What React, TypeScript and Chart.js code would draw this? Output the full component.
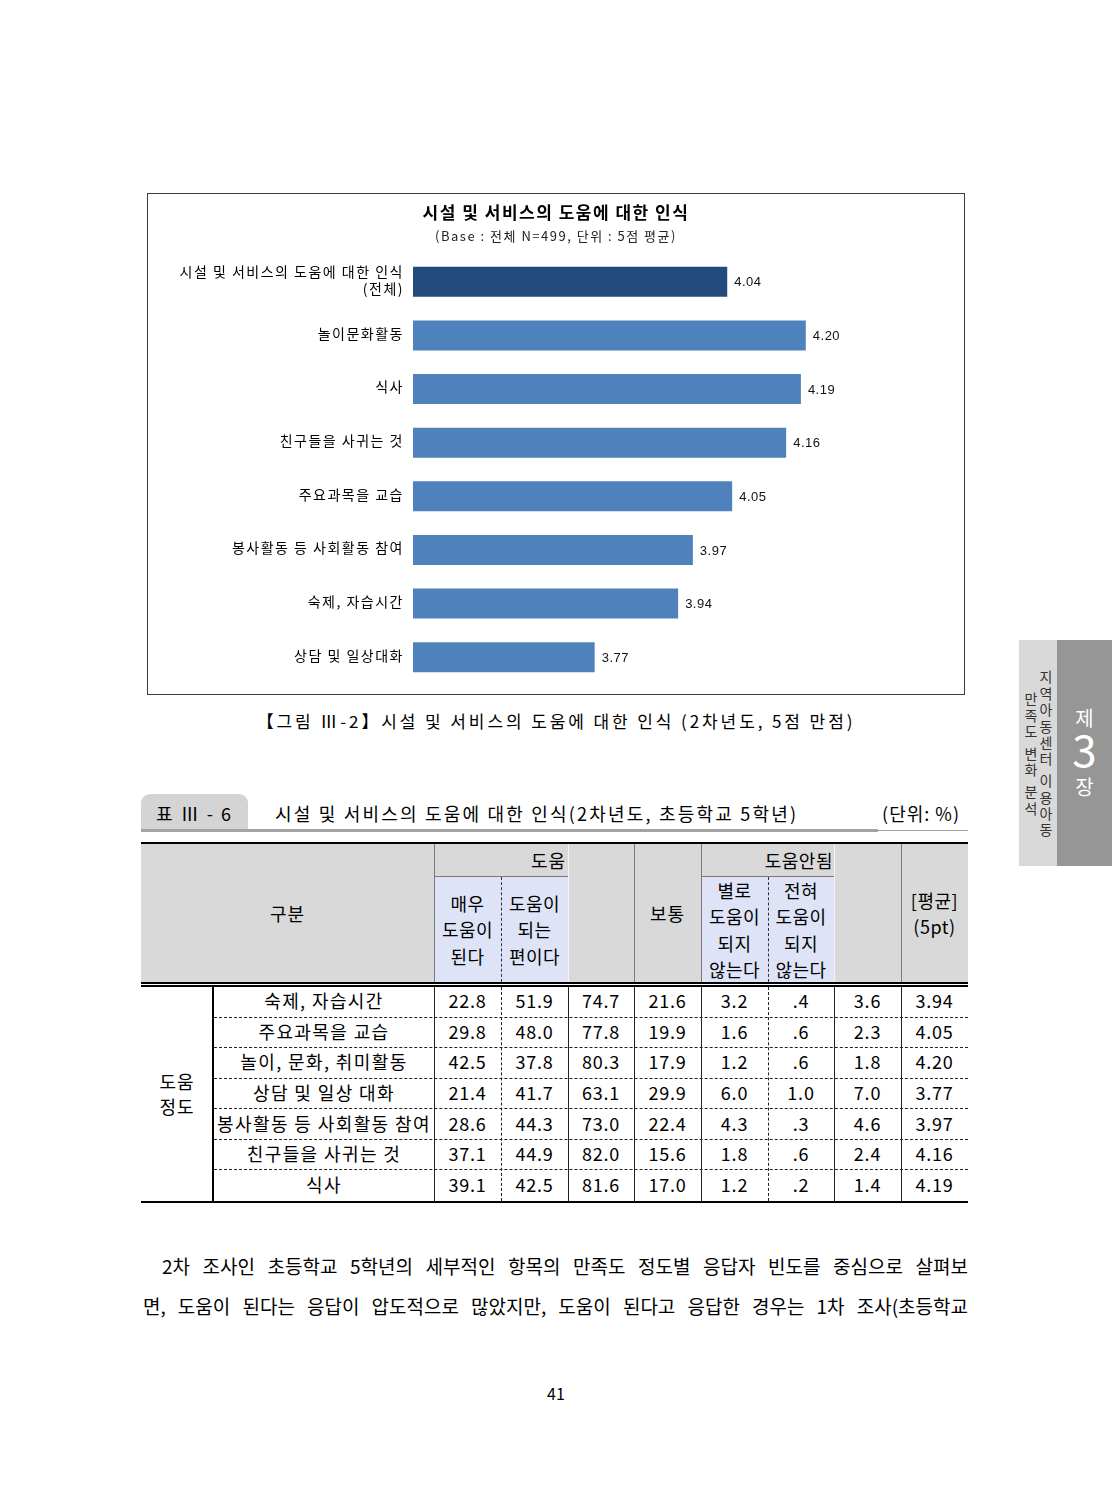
import React, { useEffect, useRef } from "react";
import { Chart, registerables } from "chart.js";

Chart.register(...registerables);

// ---------------- chart data ----------------
const chartTitle = "시설 및 서비스의 도움에 대한 인식";
const chartSubtitle = "(Base : 전체 N=499, 단위 : 5점 평균)";
const chartCategories: (string | string[])[] = [
  ["시설 및 서비스의 도움에 대한 인식", "(전체)"],
  "놀이문화활동",
  "식사",
  "친구들을 사귀는 것",
  "주요과목을 교습",
  "봉사활동 등 사회활동 참여",
  "숙제, 자습시간",
  "상담 및 일상대화",
];
const chartScores = [4.04, 4.2, 4.19, 4.16, 4.05, 3.97, 3.94, 3.77];
const axisMin = 3.4;
const axisMax = 4.4;

// ---------------- table data ----------------
const tableRows = [
  "숙제, 자습시간",
  "주요과목을 교습",
  "놀이, 문화, 취미활동",
  "상담 및 일상 대화",
  "봉사활동 등 사회활동 참여",
  "친구들을 사귀는 것",
  "식사",
];
const veryHelpful = [22.8, 29.8, 42.5, 21.4, 28.6, 37.1, 39.1];
const somewhatHelpful = [51.9, 48.0, 37.8, 41.7, 44.3, 44.9, 42.5];
const helpfulSum = [74.7, 77.8, 80.3, 63.1, 73.0, 82.0, 81.6];
const neutral = [21.6, 19.9, 17.9, 29.9, 22.4, 15.6, 17.0];
const notMuchHelpful = [3.2, 1.6, 1.2, 6.0, 4.3, 1.8, 1.2];
const notAtAllHelpful = [0.4, 0.6, 0.6, 1.0, 0.3, 0.6, 0.2];
const notHelpfulSum = [3.6, 2.3, 1.8, 7.0, 4.6, 2.4, 1.4];
const meanScore = [3.94, 4.05, 4.2, 3.77, 3.97, 4.16, 4.19];

// ---------------- text ----------------
const figureCaption = "【그림 Ⅲ-2】시설 및 서비스의 도움에 대한 인식 (2차년도, 5점 만점)";
const tableLabel = "표 Ⅲ - 6";
const tableTitle = "시설 및 서비스의 도움에 대한 인식(2차년도, 초등학교 5학년)";
const tableUnit = "(단위: %)";
const paragraphLines = [
  "2차 조사인 초등학교 5학년의 세부적인 항목의 만족도 정도별 응답자 빈도를 중심으로 살펴보",
  "면, 도움이 된다는 응답이 압도적으로 많았지만, 도움이 된다고 응답한 경우는 1차 조사(초등학교",
];
const pageNumber = "41";

const FONT = '"Noto Sans CJK KR", "Noto Sans", sans-serif';

function BarChart() {
  const ref = useRef<HTMLCanvasElement>(null);
  useEffect(() => {
    const canvas = ref.current!;
    const spacingPlugin = {
      id: "spacing",
      beforeDraw(chart: any) {
        chart.ctx.letterSpacing = "1.5px";
      },
    };
    const valueLabels = {
      id: "valueLabels",
      afterDatasetsDraw(chart: any) {
        const ctx = chart.ctx;
        const meta = chart.getDatasetMeta(0);
        ctx.save();
        ctx.letterSpacing = "0.5px";
        ctx.font = '13px "Liberation Sans", Arial, sans-serif';
        ctx.fillStyle = "#111";
        ctx.textAlign = "left";
        ctx.textBaseline = "middle";
        meta.data.forEach((el: any, i: number) => {
          const v = chart.data.datasets[0].data[i] as number;
          ctx.fillText(v.toFixed(2), el.x + 7, el.y + 1);
        });
        ctx.restore();
      },
    };
    const chart = new Chart(canvas, {
      type: "bar",
      data: {
        labels: chartCategories,
        datasets: [
          {
            data: chartScores,
            yAxisID: "y",
            backgroundColor: (c: any) => (c.dataIndex === 0 ? "#234a7c" : "#4f81bd"),
            barPercentage: 0.56,
            categoryPercentage: 1,
          },
        ],
      },
      options: {
        indexAxis: "y",
        responsive: false,
        animation: false,
        layout: { padding: { left: 0, right: 0, top: 0, bottom: 10 } },
        plugins: {
          legend: { display: false },
          tooltip: { enabled: false },
          title: {
            display: true,
            text: chartTitle,
            color: "#000",
            font: { family: FONT, size: 17, weight: "bold" },
            padding: { top: 8, bottom: 4 },
          },
          subtitle: {
            display: true,
            text: chartSubtitle,
            color: "#222",
            font: { family: FONT, size: 13 },
            padding: { top: 2, bottom: 11 },
          },
        },
        scales: {
          x: { display: false, min: axisMin, max: axisMax },
          y: {
            grid: { display: false, drawTicks: false },
            border: { display: false },
            ticks: {
              color: "#000",
              font: { family: FONT, size: 14 },
              padding: 9,
              labelOffset: -2,
            },
            afterFit: (s: any) => {
              s.width = 265;
              s.paddingTop = 0;
              s.paddingBottom = 0;
            },
          },
          yRight: {
            type: "category",
            axis: "y",
            position: "right",
            grid: { display: false, drawTicks: false },
            border: { display: false },
            ticks: { display: false },
            afterFit: (s: any) => {
              s.width = 60;
              s.paddingTop = 0;
              s.paddingBottom = 0;
            },
          },
        },
      } as any,
      plugins: [spacingPlugin, valueLabels],
    });
    return () => chart.destroy();
  }, []);
  return (
    <canvas
      ref={ref}
      width={816}
      height={500}
      style={{ display: "block", width: 816, height: 500 }}
    />
  );
}

type BoxProps = {
  l: number;
  t: number;
  w: number;
  h: number;
  align?: "center" | "flex-start" | "flex-end";
  size?: number;
  lh?: number;
  ls?: number;
  style?: React.CSSProperties;
  children?: React.ReactNode;
};

function Box({ l, t, w, h, align = "center", size = 18, lh = 26, ls = 0, style, children }: BoxProps) {
  return (
    <div
      style={{
        position: "absolute",
        left: l,
        top: t,
        width: w,
        height: h,
        display: "flex",
        alignItems: "center",
        justifyContent: align,
        textAlign: align === "center" ? "center" : align === "flex-end" ? "right" : "left",
        fontFamily: FONT,
        fontSize: size,
        lineHeight: `${lh}px`,
        letterSpacing: ls,
        whiteSpace: "pre",
        color: "#000",
        ...style,
      }}
    >
      {children}
    </div>
  );
}

function Rect({ l, t, w, h, bg, style }: { l: number; t: number; w: number; h: number; bg?: string; style?: React.CSSProperties }) {
  return <div style={{ position: "absolute", left: l, top: t, width: w, height: h, background: bg, ...style }} />;
}

const fmt1 = (v: number) => v.toFixed(1).replace(/^0\./, ".");

function DataTable() {
  const edges = [141, 213, 434, 501, 568, 634, 701, 768, 834, 901, 968];
  const headTop = 844;
  const headMid = 876;
  const headBot = 982;
  const bodyTop = 987;
  const bodyBot = 1201;
  const rowH = (bodyBot - bodyTop) / tableRows.length;
  const series = [
    veryHelpful,
    somewhatHelpful,
    helpfulSum,
    neutral,
    notMuchHelpful,
    notAtAllHelpful,
    notHelpfulSum,
    meanScore,
  ];
  const els: React.ReactNode[] = [];
  els.push(<Rect key="top" l={141} t={842} w={827} h={2} bg="#000" />);
  els.push(<Rect key="hbg" l={141} t={headTop} w={827} h={headBot - headTop} bg="#d9d9d9" />);
  els.push(<Rect key="lav1" l={434} t={headMid + 1} w={134} h={headBot - headMid - 1} bg="#dfe3f7" />);
  els.push(<Rect key="lav2" l={701} t={headMid + 1} w={133} h={headBot - headMid - 1} bg="#dfe3f7" />);
  els.push(<Rect key="hm1" l={434} t={headMid} w={134} h={1} bg="#7a7a7a" />);
  els.push(<Rect key="hm2" l={701} t={headMid} w={133} h={1} bg="#7a7a7a" />);
  [434, 634, 701, 901].forEach((x) =>
    els.push(<Rect key={"hv" + x} l={x} t={headTop} w={1} h={headBot - headTop} bg="#7a7a7a" />)
  );
  [568, 834].forEach((x) =>
    els.push(<Rect key={"hvw" + x} l={x} t={headTop} w={1} h={headBot - headTop} bg="#f4f4f4" />)
  );
  [501, 768].forEach((x) =>
    els.push(
      <Rect
        key={"hd" + x}
        l={x}
        t={headMid + 1}
        w={0}
        h={headBot - headMid - 1}
        style={{ borderLeft: "1px dashed #333" }}
      />
    )
  );
  els.push(<Rect key="dbl1" l={141} t={982} w={827} h={2} bg="#000" />);
  els.push(<Rect key="dbl2" l={141} t={985} w={827} h={2} bg="#000" />);
  els.push(<Box key="gubun" l={141} t={headTop} w={293} h={headBot - headTop} ls={1}>구분</Box>);
  els.push(
    <Box key="help" l={434} t={headTop} w={132} h={headMid - headTop} align="flex-end" ls={1}>
      도움
    </Box>
  );
  els.push(
    <Box key="nohelp" l={701} t={headTop} w={132} h={headMid - headTop} align="flex-end" ls={0.5}>
      도움안됨
    </Box>
  );
  const subHeads: [number, string][] = [
    [2, "매우\n도움이\n된다"],
    [3, "도움이\n되는\n편이다"],
    [6, "별로\n도움이\n되지\n않는다"],
    [7, "전혀\n도움이\n되지\n않는다"],
  ];
  subHeads.forEach(([ci, txt]) =>
    els.push(
      <Box key={"sh" + ci} l={edges[ci]} t={headMid + 1} w={edges[ci + 1] - edges[ci]} h={headBot - headMid - 1} lh={26.3} ls={0.5}>
        {txt}
      </Box>
    )
  );
  els.push(<Box key="normal" l={634} t={headTop} w={67} h={headBot - headTop} ls={1}>보통</Box>);
  els.push(
    <Box key="avg" l={901} t={headTop} w={67} h={headBot - headTop} ls={0.5}>
      {"[평균]\n(5pt)"}
    </Box>
  );
  els.push(<Rect key="lv" l={212} t={bodyTop} w={2} h={bodyBot - bodyTop} bg="#000" />);
  [434, 568, 634, 701, 834, 901].forEach((x) =>
    els.push(<Rect key={"bv" + x} l={x} t={bodyTop} w={1} h={bodyBot - bodyTop} bg="#222" />)
  );
  [501, 768].forEach((x) =>
    els.push(
      <Rect key={"bd" + x} l={x} t={bodyTop} w={0} h={bodyBot - bodyTop} style={{ borderLeft: "1px dashed #222" }} />
    )
  );
  for (let i = 1; i < tableRows.length; i++) {
    els.push(
      <Rect
        key={"bh" + i}
        l={214}
        t={Math.round(bodyTop + i * rowH) - 1}
        w={754}
        h={0}
        style={{ borderTop: "1px dashed #222" }}
      />
    );
  }
  els.push(<Rect key="bot" l={141} t={bodyBot} w={827} h={2} bg="#000" />);
  els.push(
    <Box key="grp" l={141} t={bodyTop} w={72} h={bodyBot - bodyTop} lh={25} ls={1}>
      {"도움\n정도"}
    </Box>
  );
  tableRows.forEach((name, i) => {
    const top = bodyTop + i * rowH - 2;
    els.push(
      <Box key={"rn" + i} l={214} t={top} w={220} h={rowH} ls={1.4}>
        {name}
      </Box>
    );
    series.forEach((s, j) => {
      const txt = j === series.length - 1 ? s[i].toFixed(2) : fmt1(s[i]);
      els.push(
        <Box key={"c" + i + "-" + j} l={edges[j + 2]} t={top} w={edges[j + 3] - edges[j + 2]} h={rowH} ls={0.8}>
          {txt}
        </Box>
      );
    });
  });
  return <>{els}</>;
}

export default function App() {
  return (
    <div
      style={{
        position: "absolute",
        left: 0,
        top: 0,
        width: 1112,
        height: 1508,
        background: "#fff",
        overflow: "hidden",
        fontFamily: FONT,
      }}
    >
      {/* chart frame */}
      <div
        style={{
          position: "absolute",
          left: 147,
          top: 193,
          width: 818,
          height: 502,
          border: "1px solid #3a3a3a",
          boxSizing: "border-box",
          background: "#fff",
        }}
      >
        <BarChart />
      </div>

      {/* figure caption */}
      <Box l={156} t={707} w={800} h={28} size={17} ls={2.9}>
        {figureCaption}
      </Box>

      {/* table title */}
      <Rect l={141} t={794} w={107} h={36} bg="#d4d4d4" style={{ borderRadius: "9px 9px 0 0" }} />
      <Box l={141} t={799} w={107} h={28} size={18} ls={2}>
        {tableLabel}
      </Box>
      <Box l={275} t={799} w={560} h={28} size={18} align="flex-start" ls={2.2}>
        {tableTitle}
      </Box>
      <Box l={760} t={799} w={200} h={28} size={18} align="flex-end" ls={1}>
        {tableUnit}
      </Box>
      <Rect l={141} t={829} w={737} h={3} bg="#a3a3a3" />
      <Rect l={878} t={830} w={90} h={1} bg="#a3a3a3" />

      <DataTable />

      {/* paragraph */}
      {paragraphLines.map((line, i) => (
        <div
          key={i}
          style={{
            position: "absolute",
            left: i === 0 ? 162 : 143,
            top: 1252 + i * 40,
            width: i === 0 ? 806 : 825,
            height: 28,
            lineHeight: "28px",
            fontFamily: FONT,
            fontSize: 19,
            color: "#000",
            textAlign: "justify",
            textAlignLast: "justify",
            whiteSpace: "nowrap",
          }}
        >
          {line}
        </div>
      ))}

      {/* page number */}
      <Box l={506} t={1380} w={100} h={26} size={16}>
        {pageNumber}
      </Box>

      {/* side tab */}
      <Rect l={1019} t={640} w={38} h={226} bg="#d9d9d9" />
      <Rect l={1057} t={640} w={55} h={226} bg="#969696" />
      <Box l={1057} t={705} w={55} h={26} size={20} style={{ color: "#fff" }}>
        제
      </Box>
      <Box l={1057} t={724} w={55} h={48} size={44} lh={48} style={{ color: "#fff" }}>
        3
      </Box>
      <Box l={1057} t={774} w={55} h={26} size={20} style={{ color: "#fff" }}>
        장
      </Box>
      <div
        style={{
          position: "absolute",
          left: 1023,
          top: 670,
          width: 30,
          height: 170,
          writingMode: "vertical-rl",
          textAlign: "center",
          fontFamily: FONT,
          fontSize: 14,
          lineHeight: "15px",
          letterSpacing: 2.4,
          color: "#333",
          whiteSpace: "pre",
        }}
      >
        {"지역아동센터 이용아동\n만족도 변화 분석"}
      </div>
    </div>
  );
}
